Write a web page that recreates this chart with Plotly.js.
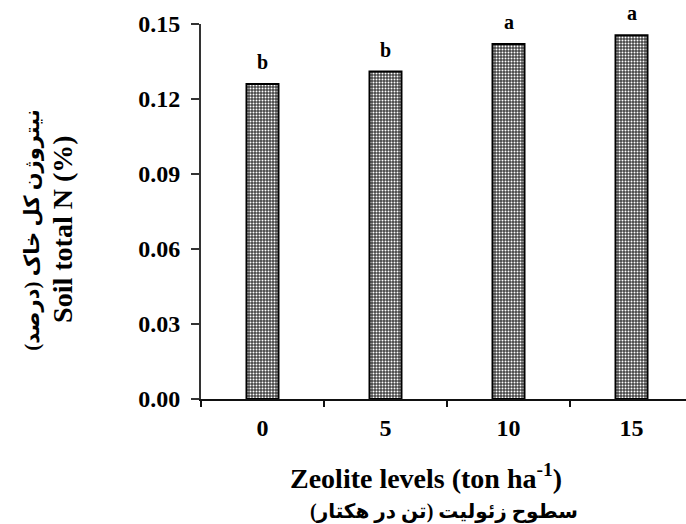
<!DOCTYPE html>
<html>
<head>
<meta charset="utf-8">
<script src="https://cdn.plot.ly/plotly-3.0.1.min.js"></script>
<style>html,body{margin:0;padding:0;background:#fff}#chart{width:686px;height:524px}</style>
</head>
<body>
<div id="chart"></div>
<script>
var categories = ['0', '5', '10', '15'];
var totalN = [0.126, 0.131, 0.142, 0.1455];
var letters = ['b', 'b', 'a', 'a'];
var yTicks = [0, 0.03, 0.06, 0.09, 0.12, 0.15];
var yTickText = ['0.00', '0.03', '0.06', '0.09', '0.12', '0.15'];
var xTitleEn = 'Zeolite levels (ton ha<sup>-1</sup>)';
var xTitleFa = 'سطوح زئولیت (تن در هکتار)';
var yTitleEn = 'Soil total N (%)';
var yTitleFa = 'نیتروژن کل خاک (درصد)';

var FONT = 'Liberation Serif, Times New Roman, DejaVu Sans, serif';

var trace = {
  type: 'bar',
  x: categories,
  y: totalN,
  width: 0.26,
  marker: {
    color: '#555',
    line: {color: '#000', width: 2},
    pattern: {shape: '.', fgcolor: '#ffffff', bgcolor: '#454545', size: 3, solidity: 0.35}
  },
  hoverinfo: 'none'
};

var annotations = categories.map(function (c, i) {
  return {
    x: i, y: totalN[i], xref: 'x', yref: 'y',
    text: letters[i], showarrow: false, yanchor: 'bottom', yshift: 9,
    font: {family: FONT, size: 20, color: '#000', weight: 'bold'}
  };
});
annotations.push(
  {xref: 'paper', yref: 'paper', x: 0.464, y: -0.207, text: xTitleEn, showarrow: false,
   xanchor: 'center', yanchor: 'middle', font: {family: FONT, size: 28, color: '#000', weight: 'bold'}},
  {xref: 'paper', yref: 'paper', x: 0.502, y: -0.30, text: xTitleFa, showarrow: false,
   xanchor: 'center', yanchor: 'middle', font: {family: FONT, size: 20, color: '#000', weight: 'bold'}},
  {xref: 'paper', yref: 'paper', x: -0.2845, y: 0.451, text: yTitleEn, showarrow: false, textangle: -90,
   xanchor: 'center', yanchor: 'middle', font: {family: FONT, size: 28, color: '#000', weight: 'bold'}},
  {xref: 'paper', yref: 'paper', x: -0.3485, y: 0.451, text: yTitleFa, showarrow: false, textangle: -90,
   xanchor: 'center', yanchor: 'middle', font: {family: FONT, size: 21, color: '#000', weight: 'bold'}}
);

var layout = {
  width: 686, height: 524,
  margin: {l: 201, r: 0, t: 24, b: 125},
  paper_bgcolor: '#fff', plot_bgcolor: '#fff',
  showlegend: false,
  xaxis: {
    type: 'category', range: [-0.5, 3.443],
    showline: true, linecolor: '#111', linewidth: 2,
    ticks: 'outside', tickson: 'boundaries', ticklen: 6, tickwidth: 2, tickcolor: '#111',
    showgrid: false, zeroline: false,
    tickfont: {family: FONT, size: 24, color: '#000', weight: 'bold'},
    ticklabelstandoff: 6
  },
  yaxis: {
    range: [0, 0.15],
    tickvals: yTicks, ticktext: yTickText,
    showline: true, linecolor: '#333', linewidth: 2,
    ticks: 'outside', ticklen: 8, tickwidth: 1.5, tickcolor: '#333',
    showgrid: false, zeroline: false,
    tickfont: {family: FONT, size: 24, color: '#000', weight: 'bold'},
    ticklabelstandoff: 6
  },
  annotations: annotations
};

Plotly.newPlot('chart', [trace], layout, {displayModeBar: false, staticPlot: true});
</script>
</body>
</html>
